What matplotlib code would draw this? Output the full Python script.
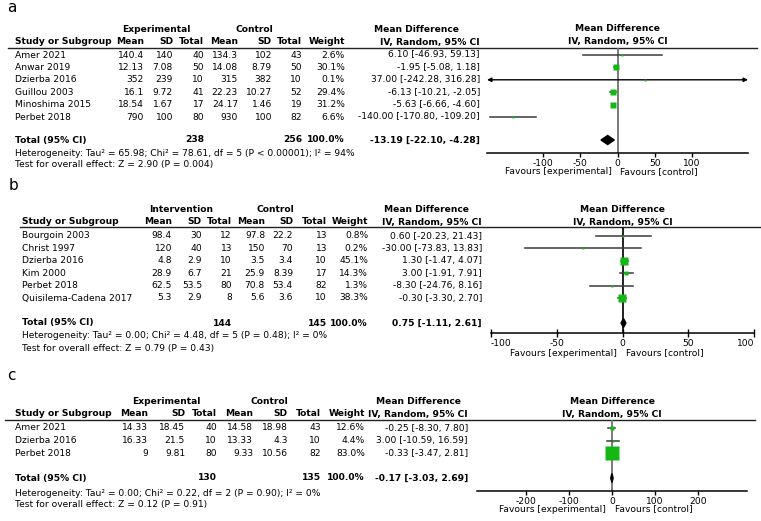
import numpy as np
import matplotlib
matplotlib.use("Agg")
import matplotlib.pyplot as plt
from matplotlib import transforms

plt.rcParams['font.family'] = ['DejaVu Sans']
FS = 6.6
W, H = 761, 521
GREEN = '#14b814'

# ---------------- panel a data
studies_a = ["Amer 2021", "Anwar 2019", "Dzierba 2016", "Guillou 2003", "Minoshima 2015", "Perbet 2018"]
e_mean_a = [140.4, 12.13, 352, 16.1, 18.54, 790]
e_sd_a = [140, 7.08, 239, 9.72, 1.67, 100]
e_n_a = [40, 50, 10, 41, 17, 80]
c_mean_a = [134.3, 14.08, 315, 22.23, 24.17, 930]
c_sd_a = [102, 8.79, 382, 10.27, 1.46, 100]
c_n_a = [43, 50, 10, 52, 19, 82]
weight_a = [2.6, 30.1, 0.1, 29.4, 31.2, 6.6]
md_a = [6.10, -1.95, 37.00, -6.13, -5.63, -140.00]
lo_a = [-46.93, -5.08, -242.28, -10.21, -6.66, -170.80]
hi_a = [59.13, 1.18, 316.28, -2.05, -4.60, -109.20]
total_a = [238, 256, -13.19, -22.10, -4.28]
het_a = "Heterogeneity: Tau² = 65.98; Chi² = 78.61, df = 5 (P < 0.00001); I² = 94%"
z_a = "Test for overall effect: Z = 2.90 (P = 0.004)"
ticks_a = [-100, -50, 0, 50, 100]

# ---------------- panel b data
studies_b = ["Bourgoin 2003", "Christ 1997", "Dzierba 2016", "Kim 2000", "Perbet 2018", "Quisilema-Cadena 2017"]
e_mean_b = [98.4, 120, 4.8, 28.9, 62.5, 5.3]
e_sd_b = [30, 40, 2.9, 6.7, 53.5, 2.9]
e_n_b = [12, 13, 10, 21, 80, 8]
c_mean_b = [97.8, 150, 3.5, 25.9, 70.8, 5.6]
c_sd_b = [22.2, 70, 3.4, 8.39, 53.4, 3.6]
c_n_b = [13, 13, 10, 17, 82, 10]
weight_b = [0.8, 0.2, 45.1, 14.3, 1.3, 38.3]
md_b = [0.60, -30.00, 1.30, 3.00, -8.30, -0.30]
lo_b = [-20.23, -73.83, -1.47, -1.91, -24.76, -3.30]
hi_b = [21.43, 13.83, 4.07, 7.91, 8.16, 2.70]
total_b = [144, 145, 0.75, -1.11, 2.61]
het_b = "Heterogeneity: Tau² = 0.00; Chi² = 4.48, df = 5 (P = 0.48); I² = 0%"
z_b = "Test for overall effect: Z = 0.79 (P = 0.43)"
ticks_b = [-100, -50, 0, 50, 100]

# ---------------- panel c data
studies_c = ["Amer 2021", "Dzierba 2016", "Perbet 2018"]
e_mean_c = [14.33, 16.33, 9]
e_sd_c = [18.45, 21.5, 9.81]
e_n_c = [40, 10, 80]
c_mean_c = [14.58, 13.33, 9.33]
c_sd_c = [18.98, 4.3, 10.56]
c_n_c = [43, 10, 82]
weight_c = [12.6, 4.4, 83.0]
md_c = [-0.25, 3.00, -0.33]
lo_c = [-8.30, -10.59, -3.47]
hi_c = [7.80, 16.59, 2.81]
total_c = [130, 135, -0.17, -3.03, 2.69]
het_c = "Heterogeneity: Tau² = 0.00; Chi² = 0.22, df = 2 (P = 0.90); I² = 0%"
z_c = "Test for overall effect: Z = 0.12 (P = 0.91)"
ticks_c = [-200, -100, 0, 100, 200]

fig = plt.figure(figsize=(W / 100, H / 100), dpi=100)
bg = fig.add_axes([0, 0, 1, 1])
bg.set_xlim(0, W)
bg.set_ylim(H, 0)
bg.axis('off')


def txt(x, y, s, ha='left', bold=False):
    bg.text(x, y, s, ha=ha, va='center', fontsize=FS,
            fontweight='bold' if bold else 'normal')


def panel(letter, L, groups, studies, em, es, en, cm, cs, cn, wt, md, lo, hi,
          tot, het, zt, xlim, ticks, tickdir, zcol):
    bg.text(L['lx'], L['ly'], letter, fontsize=11, ha='left', va='center')
    cols = L['cols']
    # header
    txt(L['gx'][0], L['h1'], groups[0], ha='center', bold=True)
    txt(L['gx'][1], L['h1'], 'Control', ha='center', bold=True)
    txt(L['mdx'], L['h1'], 'Mean Difference', ha='center', bold=True)
    txt(L['x0'], L['h2'], 'Study or Subgroup', bold=True)
    for x, s in zip(cols, ['Mean', 'SD', 'Total', 'Mean', 'SD', 'Total', 'Weight',
                           'IV, Random, 95% CI']):
        txt(x, L['h2'], s, ha='right', bold=True)
    bg.plot([L['lx0'], L['lx1']], [L['line'], L['line']], color='#222', lw=1)

    for i, s in enumerate(studies):
        y = L['r0'] + i * L['rh']
        vals = [f"{em[i]:g}", f"{es[i]:g}", f"{en[i]}", f"{cm[i]:g}", f"{cs[i]:g}",
                f"{cn[i]}", f"{wt[i]:.1f}%", f"{md[i]:.2f} [{lo[i]:.2f}, {hi[i]:.2f}]"]
        txt(L['x0'], y, s)
        for x, v in zip(cols, vals):
            txt(x, y, v, ha='right')
    ty = L['tot']
    txt(L['x0'], ty, 'Total (95% CI)', bold=True)
    txt(cols[2], ty, f"{tot[0]}", ha='right', bold=True)
    txt(cols[5], ty, f"{tot[1]}", ha='right', bold=True)
    txt(cols[6], ty, f"{sum(wt):.1f}%", ha='right', bold=True)
    txt(cols[7], ty, f"{tot[2]:.2f} [{tot[3]:.2f}, {tot[4]:.2f}]", ha='right', bold=True)
    txt(L['x0'], L['het'], het)
    txt(L['x0'], L['zt'], zt)

    # forest plot
    fx0, fx1 = L['fx']
    ay = L['axis']
    fa = fig.add_axes([fx0 / W, 1 - ay / H, (fx1 - fx0) / W, (ay - L['line']) / H])
    fa.patch.set_alpha(0)
    fa.set_xlim(xlim)
    fa.set_ylim(ay, L['line'])
    for sp in ['top', 'left', 'right']:
        fa.spines[sp].set_visible(False)
    fa.spines['bottom'].set_linewidth(1.1)
    fa.set_yticks([])
    fa.set_xticks(ticks)
    fa.set_xticklabels([f"{t:g}" for t in ticks])
    if tickdir == 'inout':
        fa.tick_params(axis='x', direction='inout', length=6, width=1, pad=1, labelsize=FS)
        labs = fa.get_xticklabels()
        labs[0].set_ha('left')
        labs[-1].set_ha('right')
    else:
        fa.tick_params(axis='x', direction='out', length=3, width=1, pad=1, labelsize=FS)
    fa.axvline(0, color=zcol, lw=1.3, zorder=1)
    for i in range(len(studies)):
        y = L['r0'] + i * L['rh']
        if lo[i] < xlim[0] or hi[i] > xlim[1]:
            fa.annotate('', xy=(min(hi[i], xlim[1]), y), xytext=(max(lo[i], xlim[0]), y),
                        arrowprops=dict(arrowstyle='<|-|>', color='k', lw=1,
                                        mutation_scale=6, shrinkA=0, shrinkB=0))
        else:
            fa.plot([lo[i], hi[i]], [y, y], color='#3a3a3a', lw=1.1, zorder=2)
        side = max(2.0, 0.4 * wt[i] ** 0.8) * 0.72
        fa.plot(md[i], y, 's', ms=side, color=GREEN, mec='none', zorder=3)
    dh = 4.5
    fa.fill([tot[3], tot[2], tot[4], tot[2]], [ty, ty - dh, ty, ty + dh],
            color='k', zorder=4, clip_on=False)
    bt = transforms.blended_transform_factory(fa.transAxes, fa.transData)
    fa.text(0.5, L['h1'], 'Mean Difference', transform=bt, ha='center', va='center',
            fontsize=FS, fontweight='bold', clip_on=False)
    fa.text(0.5, L['h2'], 'IV, Random, 95% CI', transform=bt, ha='center', va='center',
            fontsize=FS, fontweight='bold', clip_on=False)
    lt = transforms.offset_copy(fa.transData, fig=fig, x=-6, y=0, units='dots')
    rt = transforms.offset_copy(fa.transData, fig=fig, x=3, y=0, units='dots')
    fa.text(0, ay + L['fav'], 'Favours [experimental]', transform=lt, ha='right',
            va='center', fontsize=FS, clip_on=False)
    fa.text(0, ay + L['fav'], 'Favours [control]', transform=rt, ha='left',
            va='center', fontsize=FS, clip_on=False)


La = dict(lx=7, ly=8, h1=29, h2=42, line=48, lx0=8, lx1=757, r0=55, rh=12.4,
          tot=140, het=153, zt=165, axis=153, fav=19, x0=15,
          cols=[144, 173, 204, 238, 272, 302, 345, 480], gx=[156, 254], mdx=416,
          fx=[487, 748])
Lb = dict(lx=9, ly=186, h1=210, h2=222, line=227, lx0=20, lx1=760, r0=236, rh=12.4,
          tot=323, het=335, zt=349, axis=333, fav=20, x0=22,
          cols=[172, 202, 232, 265, 293, 327, 368, 482], gx=[181, 275], mdx=426,
          fx=[491, 754])
Lc = dict(lx=7, ly=375, h1=402, h2=414, line=420, lx0=5, lx1=755, r0=428, rh=12.7,
          tot=478, het=493, zt=504, axis=491, fav=18, x0=15,
          cols=[148, 185, 217, 253, 288, 321, 365, 468], gx=[166, 269], mdx=418,
          fx=[477, 747])

panel('a', La, ['Experimental'], studies_a, e_mean_a, e_sd_a, e_n_a, c_mean_a, c_sd_a,
      c_n_a, weight_a, md_a, lo_a, hi_a, total_a, het_a, z_a, (-175, 175), ticks_a,
      'out', '#707070')
panel('b', Lb, ['Intervention'], studies_b, e_mean_b, e_sd_b, e_n_b, c_mean_b, c_sd_b,
      c_n_b, weight_b, md_b, lo_b, hi_b, total_b, het_b, z_b, (-100, 100), ticks_b,
      'inout', '#111111')
panel('c', Lc, ['Experimental'], studies_c, e_mean_c, e_sd_c, e_n_c, c_mean_c, c_sd_c,
      c_n_c, weight_c, md_c, lo_c, hi_c, total_c, het_c, z_c, (-314, 314), ticks_c,
      'out', '#707070')

fig.savefig('out.png', dpi=100)
